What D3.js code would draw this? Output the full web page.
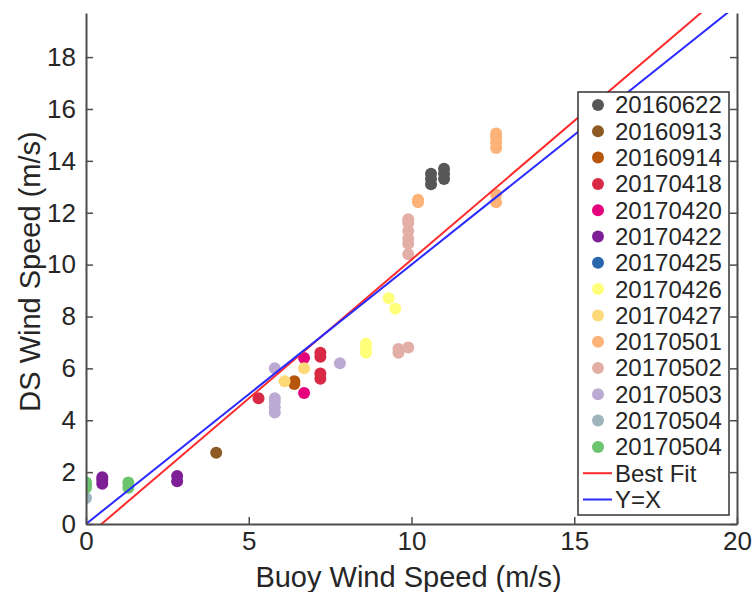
<!DOCTYPE html>
<html>
<head>
<meta charset="utf-8">
<script src="https://cdn.jsdelivr.net/npm/d3@7"></script>
<style>
  body { margin: 0; background: #fff; }
  text { font-family: "Liberation Sans", Arial, sans-serif; fill: #262626; }
</style>
</head>
<body>
<div id="chart"></div>
<script>
// series labels (legend order)
var dates = ["20160622", "20160913", "20160914", "20170418", "20170420", "20170422", "20170425",
  "20170426", "20170427", "20170501", "20170502", "20170503", "20170504", "20170504"];
var colors = ["#575757", "#8e5a24", "#b5560c", "#d82a45", "#e6007e", "#7f1f96", "#2a66ae",
  "#ffff7a", "#fdd978", "#fdb378", "#e2aea6", "#bcaad3", "#9fb5bd", "#6cc46e"];

// buoy (x) and DS (y) wind speeds per series, m/s
var buoy = [
  [10.6, 10.6, 10.6, 11.0, 11.0, 11.0],
  [4.0],
  [6.4, 6.4],
  [5.3, 7.2, 7.2, 7.2, 7.2],
  [6.7, 6.7],
  [0.5, 0.5, 0.5, 2.8, 2.8],
  [],
  [8.6, 8.6, 8.6, 9.3, 9.5],
  [6.7, 6.1],
  [10.2, 10.2, 12.6, 12.6, 12.6, 12.6, 12.6, 12.6],
  [9.6, 9.6, 9.9, 9.9, 9.9, 9.9, 9.9, 9.9, 9.9],
  [5.8, 5.8, 5.8, 5.8, 5.8, 7.8],
  [0],
  [0, 0, 0, 1.3, 1.3]
];
var ds = [
  [13.1, 13.3, 13.5, 13.3, 13.5, 13.7],
  [2.75],
  [5.4, 5.5],
  [4.85, 6.45, 6.6, 5.6, 5.8],
  [6.4, 5.05],
  [1.55, 1.7, 1.8, 1.65, 1.85],
  [],
  [6.6, 6.8, 6.95, 8.7, 8.3],
  [6.0, 5.5],
  [12.4, 12.5, 14.5, 14.7, 14.9, 15.05, 12.4, 12.7],
  [6.6, 6.75, 6.8, 10.4, 10.8, 11.0, 11.3, 11.6, 11.75],
  [6.0, 4.3, 4.5, 4.7, 4.85, 6.2],
  [1.0],
  [1.4, 1.5, 1.6, 1.4, 1.6]
];

// best fit y = slope * x + intercept
var fitSlope = 1.07;
var fitIntercept = -0.51;

var xTicks = [0, 5, 10, 15, 20];
var yTicks = [0, 2, 4, 6, 8, 10, 12, 14, 16, 18];

var W = 754, H = 592;
var margin = { top: 13, right: 17, bottom: 68, left: 86 };
var width = W - margin.left - margin.right;
var height = H - margin.top - margin.bottom;
var axisColor = "#4d4d4d";

var svg = d3.select("#chart").append("svg").attr("width", W).attr("height", H);
var g = svg.append("g").attr("transform", `translate(${margin.left},${margin.top})`);

var x = d3.scaleLinear().domain([0, 20]).range([0, width]);
var y = d3.scaleLinear().domain([0, 19.7]).range([height, 0]);

g.append("clipPath").attr("id", "clip")
  .append("rect").attr("width", width).attr("height", height);

// points
var plot = g.append("g").attr("clip-path", "url(#clip)");
dates.forEach(function (d, i) {
  var pts = d3.zip(buoy[i], ds[i]);
  plot.append("g")
    .selectAll("circle")
    .data(pts)
    .enter()
    .append("circle")
    .attr("cx", (p) => x(p[0]))
    .attr("cy", (p) => y(p[1]))
    .attr("r", 6)
    .style("fill", colors[i]);
});

// fit and 1:1 lines
var line = d3.line().x((p) => x(p[0])).y((p) => y(p[1]));
plot.append("path")
  .attr("d", line([[0, fitIntercept], [20, fitSlope * 20 + fitIntercept]]))
  .attr("fill", "none").attr("stroke", "#ff2a2a").attr("stroke-width", 2);
plot.append("path")
  .attr("d", line([[0, 0], [20, 20]]))
  .attr("fill", "none").attr("stroke", "#2a2aff").attr("stroke-width", 2);

// axes
function styleAxis(sel) {
  sel.select(".domain").attr("stroke", axisColor).attr("stroke-width", 2);
  sel.selectAll(".tick line").attr("stroke", axisColor).attr("stroke-width", 1.5);
  sel.selectAll(".tick text").style("font-size", "26px").attr("fill", "#262626");
}
var xAxis = g.append("g").attr("transform", `translate(0,${height})`)
  .call(d3.axisBottom(x).tickValues(xTicks).tickSize(-7).tickSizeOuter(0).tickPadding(8));
styleAxis(xAxis);

var yAxis = g.append("g")
  .call(d3.axisLeft(y).tickValues(yTicks).tickSize(-7).tickSizeOuter(0).tickPadding(10));
styleAxis(yAxis);

var yAxisR = g.append("g").attr("transform", `translate(${width},0)`)
  .call(d3.axisRight(y).tickValues(yTicks).tickSize(-7).tickSizeOuter(0).tickFormat(""));
styleAxis(yAxisR);

// axis titles
svg.append("text")
  .attr("x", margin.left + width / 2 - 3).attr("y", H - 5)
  .attr("text-anchor", "middle").style("font-size", "29px")
  .text("Buoy Wind Speed (m/s)");
svg.append("text")
  .attr("transform", `translate(40,${margin.top + height / 2 + 3}) rotate(-90)`)
  .attr("text-anchor", "middle").style("font-size", "29px")
  .text("DS Wind Speed (m/s)");

// legend
var lg = svg.append("g").attr("transform", "translate(578,92)");
var rowH = 26.3;
lg.append("rect")
  .attr("width", 151).attr("height", 423)
  .attr("fill", "#fff").attr("stroke", "#333").attr("stroke-width", 1.5);
dates.forEach(function (d, i) {
  var row = lg.append("g").attr("transform", `translate(0,${13 + i * rowH})`);
  row.append("circle").attr("cx", 20).attr("cy", 0).attr("r", 6).style("fill", colors[i]);
  row.append("text").attr("x", 37).attr("y", 0).attr("dy", "0.35em")
    .style("font-size", "24px").text(d);
});
[["Best Fit", "#ff2a2a"], ["Y=X", "#2a2aff"]].forEach(function (e, j) {
  var row = lg.append("g").attr("transform", `translate(0,${13 + (14 + j) * rowH})`);
  row.append("line").attr("x1", 5).attr("x2", 34).attr("stroke", e[1]).attr("stroke-width", 2);
  row.append("text").attr("x", 37).attr("y", 0).attr("dy", "0.35em")
    .style("font-size", "24px").text(e[0]);
});
</script>
</body>
</html>
